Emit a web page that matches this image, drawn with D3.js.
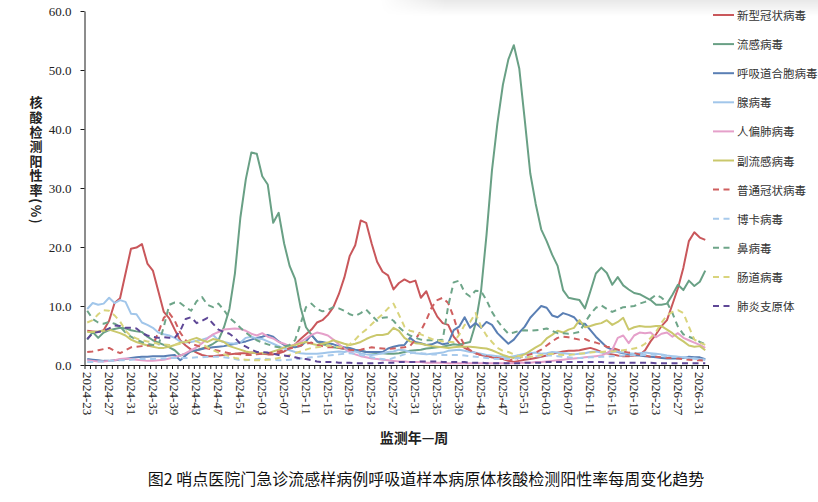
<!DOCTYPE html>
<html>
<head>
<meta charset="utf-8">
<script src="https://cdn.jsdelivr.net/npm/d3@7"></script>
<style>
  body { margin: 0; background: #fff; }
  svg { display: block; }
</style>
</head>
<body>
<div id="chart"></div>
<script>
// surveillance weeks 2024-23 .. 2026-32
const weekRanges = [[2024, 23, 52], [2025, 1, 52], [2026, 1, 32]];
const weeks = [];
weekRanges.forEach(([yr, a, b]) => {
  for (let w = a; w <= b; w++) weeks.push(`${yr}-${String(w).padStart(2, "0")}`);
});

const yTicks = [0, 10, 20, 30, 40, 50, 60];

const covid = [5.8,5.7,5.6,5.9,7.5,10.5,11.3,15.5,19.7,19.9,
  20.5,17.2,16.0,12.5,9.0,7.9,6.0,4.2,3.3,2.6,
  2.1,1.7,1.5,1.5,1.6,1.7,1.8,1.9,2.0,2.0,
  2.1,2.0,1.9,1.8,1.8,2.0,2.3,2.8,3.5,4.4,
  5.2,6.0,7.2,7.6,8.5,9.8,12.0,14.8,18.5,20.3,
  24.5,24.1,20.6,17.5,15.8,15.2,12.8,13.9,14.5,14.0,
  14.3,11.4,12.5,10.0,8.2,7.1,6.8,4.8,3.7,2.9,
  2.4,2.0,1.7,1.5,1.3,1.1,1.0,0.7,0.5,0.7,
  0.9,1.0,1.2,1.4,1.6,1.9,2.1,2.3,2.4,2.4,
  2.5,2.7,2.9,2.6,2.2,2.0,1.8,1.6,1.5,1.5,
  1.6,1.7,2.5,4.0,5.2,6.6,7.6,10.3,13.0,16.5,
  21.0,22.5,21.6,21.2];

const flu = [4.3,5.6,4.6,5.5,5.9,6.1,6.3,6.2,5.9,5.7,
  5.6,4.8,4.2,3.8,3.4,3.0,2.5,1.6,1.9,2.3,
  2.5,2.8,3.1,3.6,4.2,6.4,9.5,15.5,25.0,31.5,
  36.0,35.8,32.0,30.6,24.1,25.8,20.6,16.8,14.6,9.8,
  6.4,5.1,4.0,3.5,3.3,3.0,2.9,2.7,2.6,2.5,
  2.4,2.2,2.1,2.0,2.0,1.9,1.9,2.0,2.2,2.4,
  2.5,2.6,2.8,2.9,3.0,3.1,3.3,3.5,3.4,3.7,
  3.9,7.0,12.5,22.0,33.0,41.0,47.5,51.8,54.2,50.2,
  41.5,32.5,27.3,23.0,21.0,18.7,16.8,12.7,11.4,11.2,
  11.0,9.6,12.5,15.5,16.5,15.6,13.6,14.9,13.5,12.8,
  12.2,12.0,11.5,11.0,10.2,10.2,10.4,11.9,13.6,12.7,
  14.3,13.4,14.1,16.0];

const rsv = [1.0,0.9,0.8,0.7,0.7,0.8,0.9,1.0,1.2,1.3,
  1.4,1.4,1.5,1.5,1.5,1.6,1.7,0.8,1.6,2.4,
  2.5,2.7,2.9,3.0,3.1,3.2,3.4,3.6,3.8,4.0,
  4.3,4.6,4.8,5.1,4.8,4.0,3.4,3.1,3.0,3.2,
  4.0,5.1,4.0,3.9,3.7,3.5,3.2,3.0,2.9,2.6,
  2.4,2.2,2.2,2.2,2.2,2.8,3.1,3.3,3.4,4.6,
  3.9,3.7,3.4,3.5,3.9,3.5,3.7,5.9,6.5,8.1,
  6.3,7.1,6.3,7.3,6.8,5.4,4.5,3.6,4.3,5.5,
  6.5,8.0,9.0,10.0,9.7,8.4,8.1,8.8,8.5,8.1,
  7.0,7.0,5.9,4.8,3.9,3.0,2.6,2.2,2.0,1.8,
  1.7,1.6,1.5,1.4,1.3,1.2,1.1,1.1,1.1,1.2,
  1.4,1.3,1.3,1.0];

const adeno = [9.5,10.5,10.2,10.4,11.4,10.5,11.0,10.7,8.7,8.6,
  7.2,6.8,6.3,5.5,5.2,5.0,4.6,4.0,3.8,3.9,
  4.1,4.3,4.6,5.1,4.2,3.9,3.7,3.6,3.8,4.6,
  4.8,4.5,4.4,4.0,3.6,3.2,2.8,2.5,2.2,2.0,
  1.9,1.9,1.9,2.0,2.1,2.2,2.3,2.2,2.4,2.3,
  2.0,1.8,1.7,1.8,2.0,2.2,2.3,2.6,2.5,2.2,
  2.0,1.9,1.8,1.9,2.0,2.1,2.4,2.5,2.6,2.4,
  2.2,2.1,1.9,1.7,1.6,1.5,1.4,1.3,1.5,1.7,
  1.9,2.0,2.1,1.9,2.0,2.2,2.1,2.0,1.9,1.8,
  1.9,2.0,2.2,2.3,2.1,2.0,2.2,2.3,2.1,2.0,
  1.9,2.0,2.1,2.0,1.9,1.8,1.6,1.5,1.4,1.3,
  1.2,1.1,1.0,0.9];

const hmpv = [0.8,0.7,0.6,0.6,0.7,0.8,1.0,1.1,1.0,0.9,
  0.8,0.7,0.7,0.8,0.9,1.1,1.3,1.6,2.0,2.5,
  3.0,3.7,4.5,5.2,5.6,6.0,6.1,6.2,6.1,5.8,
  5.3,5.0,5.4,4.8,4.5,3.9,3.6,3.2,3.5,3.9,
  4.5,5.1,5.5,5.3,5.0,4.3,3.5,2.8,2.2,1.8,
  1.5,1.3,1.1,1.0,0.9,0.8,0.7,0.6,0.6,0.5,
  0.5,0.5,0.4,0.4,0.4,0.4,0.3,0.3,0.3,0.3,
  0.3,0.3,0.3,0.3,0.3,0.3,0.3,0.3,0.3,0.4,
  0.4,0.4,0.5,0.5,0.6,0.7,0.8,0.9,1.0,1.1,
  1.2,1.3,1.4,1.5,1.6,2.0,2.6,4.6,5.0,3.7,
  5.0,5.5,5.4,5.5,4.7,5.3,5.5,4.8,5.4,4.6,
  4.2,3.8,3.4,2.9];

const piv = [5.6,5.6,5.7,5.8,6.0,5.7,5.4,5.0,4.3,3.9,
  3.6,3.3,3.1,2.9,2.9,3.1,3.4,3.8,3.9,4.3,
  4.6,4.2,3.9,4.4,4.2,3.9,3.2,2.9,2.6,2.3,
  2.1,2.0,2.0,2.0,2.3,2.6,3.0,3.2,3.4,3.7,
  3.9,3.6,3.4,3.6,3.8,4.2,3.9,3.6,3.4,3.6,
  3.9,4.4,4.8,5.1,5.1,5.3,6.3,5.8,4.6,4.0,
  3.7,3.6,3.4,3.2,3.1,3.0,2.9,3.0,3.1,3.1,
  3.1,3.0,2.9,2.8,2.5,2.1,1.7,1.4,1.2,1.5,
  1.8,2.4,3.0,3.5,4.5,5.1,5.8,5.5,6.0,6.3,
  7.6,6.4,6.6,6.9,7.1,7.6,6.8,7.3,8.0,6.0,
  6.4,6.6,6.5,6.5,6.6,6.6,6.0,5.4,4.6,4.0,
  3.3,3.1,3.2,2.5];

const hcov = [2.2,2.3,2.5,2.7,2.9,2.4,2.0,2.5,3.0,3.1,
  3.2,3.3,3.4,5.5,8.0,8.8,7.5,5.5,4.2,3.6,
  3.3,3.0,2.8,2.6,2.4,2.2,2.0,1.9,1.8,1.7,
  1.7,1.8,1.9,2.0,2.1,2.3,2.5,2.8,3.0,3.3,
  3.6,3.8,3.4,3.2,3.0,3.0,2.9,2.8,2.6,2.5,
  2.6,2.8,3.0,2.9,2.8,2.7,2.8,2.9,3.0,3.2,
  4.3,5.8,7.6,9.8,11.0,11.4,10.5,8.1,5.1,3.3,
  2.5,2.0,1.7,1.5,1.3,1.2,1.0,0.8,0.9,1.2,
  1.5,1.8,2.1,2.6,3.3,4.0,4.6,4.8,4.7,4.5,
  4.3,4.4,4.0,3.8,3.5,3.1,2.9,2.6,2.3,2.1,
  2.0,1.8,1.6,1.4,1.4,1.3,1.2,1.2,1.1,1.0,
  0.9,0.8,0.8,0.7];

const boca = [0.5,0.5,0.6,0.6,0.7,0.7,0.8,0.8,0.9,1.0,
  1.0,1.0,1.0,1.1,1.1,1.2,1.2,1.2,1.2,1.2,
  1.3,1.3,1.4,1.4,1.4,1.3,1.2,1.0,0.8,0.8,
  0.9,1.0,1.1,1.0,0.9,0.8,0.8,0.9,1.0,1.1,
  1.2,1.3,1.4,1.5,1.6,1.7,1.8,1.9,2.0,1.9,
  1.7,1.5,1.3,1.1,1.0,0.9,1.2,1.5,1.8,2.0,
  2.1,2.0,1.9,1.8,1.8,1.7,1.7,1.7,1.7,1.6,
  1.5,1.4,1.3,1.2,1.1,1.0,1.0,1.0,1.1,1.2,
  1.3,1.4,1.5,1.5,1.6,1.6,1.5,1.4,1.3,1.2,
  1.2,1.2,1.3,1.3,1.4,1.4,1.5,1.5,1.6,1.6,
  1.7,1.7,1.7,1.8,1.7,1.6,1.5,1.4,1.4,1.3,
  1.2,1.1,1.0,0.9];

const rhino = [9.2,7.8,7.2,7.0,7.3,7.0,6.5,5.5,4.8,4.3,
  3.9,3.6,3.4,3.3,6.5,10.2,10.6,10.5,9.8,9.2,
  10.8,11.5,10.2,9.8,10.4,9.3,8.0,7.2,6.3,5.5,
  4.8,4.2,3.8,3.5,3.2,3.0,3.1,3.4,4.2,7.0,
  9.8,10.4,9.5,9.1,9.3,9.8,9.6,9.2,8.6,8.3,
  8.8,9.4,8.4,7.5,8.0,8.1,7.5,6.4,5.6,5.0,
  4.6,4.3,4.2,4.2,4.2,4.3,10.0,14.0,14.3,12.3,
  11.6,12.6,12.5,11.0,9.0,7.5,6.3,5.3,5.5,5.8,
  5.9,5.8,5.9,6.0,6.2,5.8,5.4,5.4,5.3,5.4,
  5.6,7.2,8.6,9.7,10.1,9.5,9.0,9.4,9.8,9.9,
  10.0,10.4,10.7,11.2,11.9,11.4,10.6,8.8,6.5,5.2,
  4.8,4.4,3.9,3.5];

const entero = [7.2,7.6,8.6,9.3,9.2,8.4,7.4,5.8,4.9,4.5,
  4.2,4.0,3.8,3.6,3.5,3.4,3.4,3.6,3.9,4.2,
  4.0,3.6,3.0,2.5,2.1,1.8,1.5,1.2,1.0,0.9,
  0.8,0.8,0.8,0.9,1.0,1.2,1.4,1.7,2.0,2.3,
  2.6,2.9,3.0,3.1,3.3,3.2,3.0,3.0,3.5,4.3,
  5.3,6.0,6.9,7.8,8.6,9.6,10.4,8.5,6.5,5.8,
  5.6,5.2,4.8,4.4,4.2,4.0,3.9,3.9,5.1,6.8,
  7.3,8.8,6.5,5.0,3.9,2.9,2.4,2.2,1.8,1.5,
  1.2,1.4,1.5,1.7,1.8,1.9,1.8,1.7,1.7,1.8,
  1.9,2.0,2.1,2.2,2.2,2.3,2.3,2.4,2.5,2.6,
  2.8,3.0,3.6,4.6,5.6,7.2,8.4,9.0,9.3,8.8,
  6.5,4.3,3.8,3.4];

const mp = [4.4,5.4,5.6,5.8,6.2,6.7,6.6,6.3,6.3,6.2,
  5.4,5.0,4.8,4.6,4.7,4.6,4.6,5.8,7.8,8.1,
  7.1,7.5,8.0,7.0,6.0,5.6,5.3,4.6,3.6,3.1,
  2.6,2.2,2.2,2.1,1.9,1.7,1.6,1.5,1.3,1.1,
  1.0,0.8,0.6,0.5,0.5,0.5,0.4,0.4,0.4,0.3,
  0.3,0.3,0.3,0.3,0.4,0.4,0.4,0.5,0.5,0.5,
  0.5,0.6,0.6,0.6,0.6,0.5,0.5,0.5,0.5,0.5,
  0.4,0.4,0.4,0.3,0.3,0.3,0.3,0.3,0.3,0.3,
  0.4,0.4,0.4,0.4,0.5,0.5,0.5,0.5,0.5,0.5,
  0.5,0.5,0.5,0.5,0.5,0.4,0.4,0.4,0.4,0.4,
  0.4,0.4,0.4,0.4,0.3,0.3,0.3,0.3,0.3,0.3,
  0.3,0.3,0.3,0.3];

const series = [
  { name: "新型冠状病毒", values: covid, color: "#c9575b", dash: null },
  { name: "流感病毒", values: flu, color: "#69a085", dash: null },
  { name: "呼吸道合胞病毒", values: rsv, color: "#5a7fb4", dash: null },
  { name: "腺病毒", values: adeno, color: "#a1c6ea", dash: null },
  { name: "人偏肺病毒", values: hmpv, color: "#e5a0ca", dash: null },
  { name: "副流感病毒", values: piv, color: "#cac86c", dash: null },
  { name: "普通冠状病毒", values: hcov, color: "#cf5f5f", dash: "6,4.5" },
  { name: "博卡病毒", values: boca, color: "#a8caec", dash: "6,4.5" },
  { name: "鼻病毒", values: rhino, color: "#6ea589", dash: "6,4.5" },
  { name: "肠道病毒", values: entero, color: "#d9d47c", dash: "6,4.5" },
  { name: "肺炎支原体", values: mp, color: "#5e4796", dash: "6,4.5" }
];

const W = 818, H = 502;
const svg = d3.select("#chart").append("svg")
  .attr("width", W)
  .attr("height", H);

// faint shadow along the top right edge
const defs = svg.append("defs");
const gV = defs.append("linearGradient").attr("id", "topShade")
  .attr("x1", 0).attr("y1", 0).attr("x2", 0).attr("y2", 1);
gV.append("stop").attr("offset", "0%").attr("stop-color", "#000").attr("stop-opacity", 0.09);
gV.append("stop").attr("offset", "100%").attr("stop-color", "#000").attr("stop-opacity", 0);
const gH = defs.append("linearGradient").attr("id", "topFade")
  .attr("x1", 0).attr("y1", 0).attr("x2", 1).attr("y2", 0);
gH.append("stop").attr("offset", "0%").attr("stop-color", "#fff").attr("stop-opacity", 0);
gH.append("stop").attr("offset", "15%").attr("stop-color", "#fff").attr("stop-opacity", 1);
gH.append("stop").attr("offset", "100%").attr("stop-color", "#fff").attr("stop-opacity", 1);
const mask = defs.append("mask").attr("id", "fadeMask");
mask.append("rect").attr("x", 380).attr("y", 0).attr("width", 438).attr("height", 16)
  .attr("fill", "url(#topFade)");
svg.append("rect").attr("x", 380).attr("y", 0).attr("width", 438).attr("height", 16)
  .attr("fill", "url(#topShade)").attr("mask", "url(#fadeMask)");

const x0 = 84.5, x1 = 708, yTop = 11, yBot = 365;

const x = d3.scaleBand().domain(weeks).range([x0, x1]).padding(0);
const cx = d => x(d) + x.bandwidth() / 2;
const xEdge = d3.scaleLinear().domain([0, weeks.length]).range([x0, x1]);
const y = d3.scaleLinear().domain([0, 60]).range([yBot, yTop]);

// y axis
svg.append("g")
  .attr("transform", `translate(${x0},0)`)
  .call(d3.axisLeft(y).tickValues(yTicks).tickFormat(d3.format(".1f"))
    .tickSize(4).tickSizeOuter(0).tickPadding(9))
  .call(g => g.selectAll("path, line").attr("stroke", "#1a1a1a"))
  .call(g => g.selectAll("text")
    .style("font-family", "'Liberation Serif', 'Times New Roman', serif")
    .style("font-size", "13px")
    .attr("fill", "#222"));

// weekly tick marks on the category boundaries
svg.append("g")
  .attr("transform", `translate(0,${yBot})`)
  .call(d3.axisBottom(xEdge).tickValues(d3.range(0, weeks.length + 1))
    .tickFormat("").tickSize(4).tickSizeOuter(0))
  .call(g => g.selectAll("path, line").attr("stroke", "#1a1a1a"));

// week labels every 4 weeks, rotated
svg.append("g")
  .attr("transform", `translate(0,${yBot})`)
  .call(d3.axisBottom(x).tickValues(weeks.filter((d, i) => i % 4 === 0)).tickSize(0))
  .call(g => g.select(".domain").remove())
  .call(g => g.selectAll("text")
    .attr("transform", "rotate(90)")
    .attr("x", 7)
    .attr("y", 0)
    .attr("dy", "0.33em")
    .style("text-anchor", "start")
    .style("font-family", "'Liberation Serif', 'Times New Roman', serif")
    .style("font-size", "13px")
    .attr("fill", "#222"));

// lines
const line = d3.line()
  .x((d, i) => cx(weeks[i]))
  .y(d => y(d));

svg.append("g")
  .selectAll("path")
  .data(series)
  .join("path")
  .attr("fill", "none")
  .attr("stroke", d => d.color)
  .attr("stroke-width", 2)
  .attr("stroke-dasharray", d => d.dash)
  .attr("stroke-linejoin", "round")
  .attr("d", d => line(d.values));

// y title, written vertically
svg.append("text")
  .attr("x", 36)
  .attr("y", 96)
  .style("writing-mode", "vertical-rl")
  .style("text-orientation", "mixed")
  .style("letter-spacing", "1.6px")
  .style("font-family", "'Noto Sans CJK SC', sans-serif")
  .style("font-weight", "700")
  .style("font-size", "13px")
  .attr("fill", "#222")
  .text("核酸检测阳性率(%)");

// x title
svg.append("text")
  .attr("x", 414)
  .attr("y", 437)
  .attr("text-anchor", "middle")
  .attr("dominant-baseline", "central")
  .style("font-family", "'Noto Sans CJK SC', sans-serif")
  .style("font-weight", "700")
  .style("font-size", "14px")
  .attr("fill", "#222")
  .text("监测年—周");

// legend
const legend = svg.append("g")
  .attr("transform", "translate(713,15)");
const item = legend.selectAll("g")
  .data(series)
  .join("g")
  .attr("transform", (d, i) => `translate(0,${i * 29.1})`);
item.append("line")
  .attr("x1", 0).attr("x2", 21)
  .attr("stroke", d => d.color)
  .attr("stroke-width", 2)
  .attr("stroke-dasharray", d => d.dash);
item.append("text")
  .attr("x", 24)
  .attr("dominant-baseline", "central")
  .style("font-family", "'Noto Sans CJK SC', sans-serif")
  .style("font-size", "11.5px")
  .attr("fill", "#333")
  .text(d => d.name);

// caption
svg.append("text")
  .attr("x", 426)
  .attr("y", 478)
  .attr("text-anchor", "middle")
  .attr("dominant-baseline", "central")
  .style("font-family", "'Noto Sans CJK SC', sans-serif")
  .style("font-size", "16px")
  .attr("fill", "#111")
  .text("图2 哨点医院门急诊流感样病例呼吸道样本病原体核酸检测阳性率每周变化趋势");
</script>
</body>
</html>
